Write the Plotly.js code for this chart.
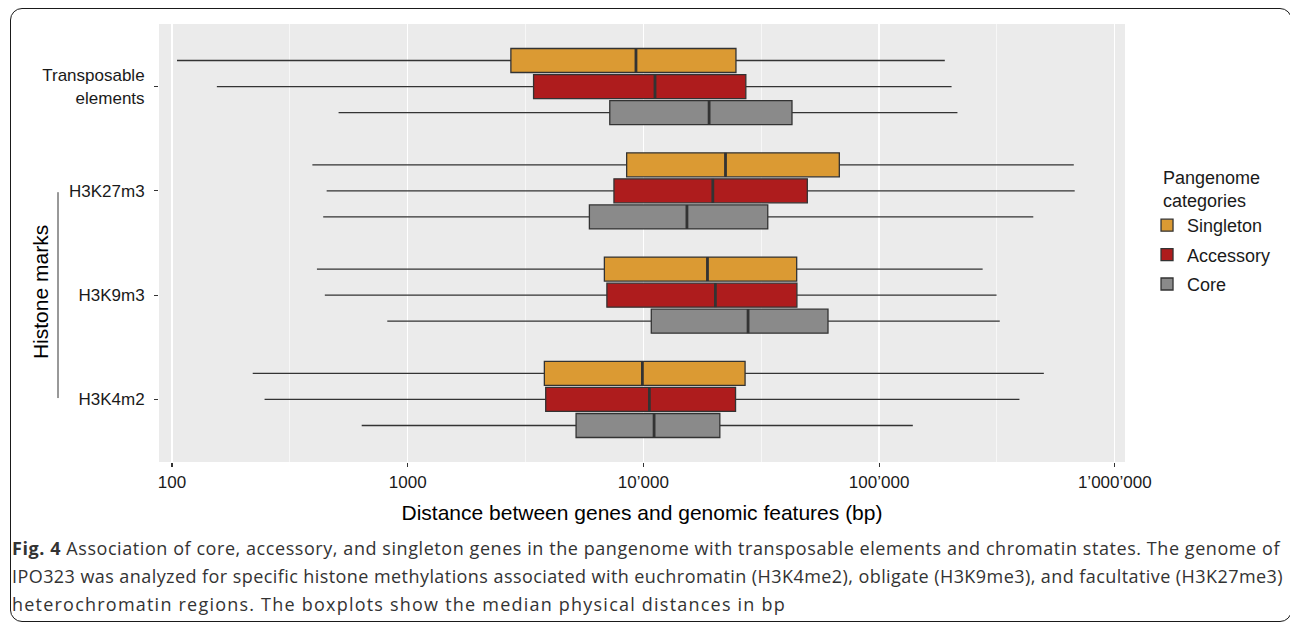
<!DOCTYPE html>
<html>
<head>
<meta charset="utf-8">
<script src="https://cdn.plot.ly/plotly-3.0.1.min.js"></script>
<style>
html,body{margin:0;padding:0;background:#fff;width:1290px;height:622px;overflow:hidden;}
#chart{position:absolute;left:0;top:0;width:1290px;height:622px;}
#frame{position:absolute;left:10px;top:8px;width:1282px;height:614px;border:1.5px solid #1a1a1a;border-radius:12px;box-sizing:border-box;pointer-events:none;}
#caption{position:absolute;left:12px;top:534px;font-family:"Open Sans",sans-serif;font-size:18px;line-height:28px;color:#333;white-space:nowrap;}
#caption span{display:inline-block;}
#caption b{font-weight:700;}
</style>
</head>
<body>
<div id="chart"></div>
<div id="frame"></div>
<div id="caption"><span class="ln" data-w="1268"><b>Fig. 4</b> Association of core, accessory, and singleton genes in the pangenome with transposable elements and chromatin states. The genome of</span><br><span class="ln" data-w="1271">IPO323 was analyzed for specific histone methylations associated with euchromatin (H3K4me2), obligate (H3K9me3), and facultative (H3K27me3)</span><br><span class="ln" data-w="774">heterochromatin regions. The boxplots show the median physical distances in bp</span></div>
<script>
// ---- data ----
const categories = ["Transposable<br>elements", "H3K27m3", "H3K9m3", "H3K4m2"];
const seriesNames = ["Singleton", "Accessory", "Core"];
const seriesColors = ["#DB9A33", "#AE1C1D", "#8A8A8A"];

const singletonMin    = [105,    394,    412,    220];
const singletonQ1     = [2740,   8490,   6830,   3800];
const singletonMedian = [9300,   22300,  18700,  9900];
const singletonQ3     = [24700,  67800,  44700,  27000];
const singletonMax    = [190000, 670000, 275000, 500000];

const accessoryMin    = [155,    453,    445,    247];
const accessoryQ1     = [3420,   7500,   7000,   3850];
const accessoryMedian = [11200,  19700,  20200,  10600];
const accessoryQ3     = [27200,  49600,  44800,  24600];
const accessoryMax    = [203000, 676000, 315000, 394000];

const coreMin    = [509,    438,    819,    638];
const coreQ1     = [7200,   5900,   10800,  5180];
const coreMedian = [19000,  15300,  27800,  11100];
const coreQ3     = [42700,  33700,  60700,  21100];
const coreMax    = [215000, 451000, 325000, 139000];

const xTickVals = [100, 1000, 10000, 100000, 1000000];
const xTickText = ["100", "1000", "10\u2019000", "100\u2019000", "1\u2019000\u2019000"];
const xMinorVals = [316.23, 3162.3, 31623, 316228];

// ---- caption fitting (style only) ----
(function fitCaption() {
  const lines = document.querySelectorAll("#caption .ln");
  lines.forEach((el) => {
    const target = Number(el.getAttribute("data-w"));
    const n = el.textContent.length;
    const w = el.getBoundingClientRect().width;
    el.style.letterSpacing = ((target - w) / n).toFixed(3) + "px";
  });
})();

// ---- build ----
const stats = [
  {min: singletonMin, q1: singletonQ1, med: singletonMedian, q3: singletonQ3, max: singletonMax},
  {min: accessoryMin, q1: accessoryQ1, med: accessoryMedian, q3: accessoryQ3, max: accessoryMax},
  {min: coreMin, q1: coreQ1, med: coreMedian, q3: coreQ3, max: coreMax}
];

const BOXGAP = 0.25, BOXGROUPGAP = 0.08;
const lineColor = "#333333";
const FONT = "Liberation Sans, Arial, sans-serif";

const traces = stats.map((s, j) => ({
  type: "box",
  orientation: "h",
  name: seriesNames[j],
  legendgroup: seriesNames[j],
  y: categories,
  q1: s.q1, median: s.med, q3: s.q3,
  lowerfence: s.min, upperfence: s.max,
  fillcolor: seriesColors[j],
  line: {color: lineColor, width: 1.3},
  whiskerwidth: 0,
  boxpoints: false,
  hoverinfo: "skip"
}));

// thicker median bars (ggplot style), positioned via the category axis
const nS = stats.length;
const slot = (1 - BOXGAP) / nS;
const half = slot * (1 - BOXGROUPGAP) / 2;
const shapes = [];
stats.forEach((s, j) => {
  const off = (j - (nS - 1) / 2) * slot;
  s.med.forEach((m, i) => {
    shapes.push({type: "line", xref: "x", yref: "y", x0: m, x1: m,
      y0: i + off - half, y1: i + off + half,
      line: {color: lineColor, width: 2.8}});
  });
});
// vertical bar next to the y-axis title
shapes.push({type: "line", xref: "paper", yref: "paper", xsizemode: "pixel", xanchor: 0,
  x0: -101, x1: -101, y0: 0.616, y1: 0.146, line: {color: "#333", width: 1}});

const layout = {
  width: 1290, height: 622,
  margin: {l: 159, r: 165, t: 24, b: 160},
  paper_bgcolor: "#ffffff",
  plot_bgcolor: "#EBEBEB",
  font: {family: FONT, color: "#1a1a1a"},
  boxmode: "group", boxgap: BOXGAP, boxgroupgap: BOXGROUPGAP,
  showlegend: true,
  xaxis: {
    type: "log", range: [1.9448, 6.0433],
    tickmode: "array", tickvals: xTickVals, ticktext: xTickText,
    ticks: "outside", ticklen: 4, tickwidth: 1.1, tickcolor: "#333",
    tickfont: {family: FONT, size: 17, color: "#1a1a1a"}, ticklabelstandoff: 1,
    showgrid: true, gridcolor: "#ffffff", gridwidth: 1.3,
    minor: {tickmode: "array", tickvals: xMinorVals, showgrid: true, gridcolor: "#ffffff", gridwidth: 0.6, ticks: ""},
    zeroline: false, showline: false,
    title: {text: "Distance between genes and genomic features (bp)", font: {family: FONT, size: 21, color: "#000"}, standoff: 13}
  },
  yaxis: {
    type: "category", range: [3.6, -0.6],
    ticks: "outside", ticklen: 4, tickwidth: 1.1, tickcolor: "#333",
    tickfont: {family: FONT, size: 17, color: "#1a1a1a"}, ticklabelstandoff: 6,
    showgrid: false, zeroline: false, showline: false
  },
  legend: {
    x: 1.0228, xanchor: "left", y: 0.689, yanchor: "top",
    font: {family: FONT, size: 18, color: "#1a1a1a"},
    title: {text: "Pangenome<br>categories", side: "top center", font: {family: FONT, size: 18, color: "#1a1a1a"}},
    tracegroupgap: 3, bgcolor: "rgba(0,0,0,0)"
  },
  annotations: [{
    text: "Histone marks", textangle: -90, showarrow: false,
    xref: "paper", yref: "paper", x: 0, xshift: -119, y: 0.388,
    xanchor: "center", yanchor: "middle",
    font: {family: FONT, size: 21, color: "#000"}
  }],
  shapes: shapes
};

Plotly.newPlot("chart", traces, layout, {displayModeBar: false, staticPlot: true});
</script>
</body>
</html>
